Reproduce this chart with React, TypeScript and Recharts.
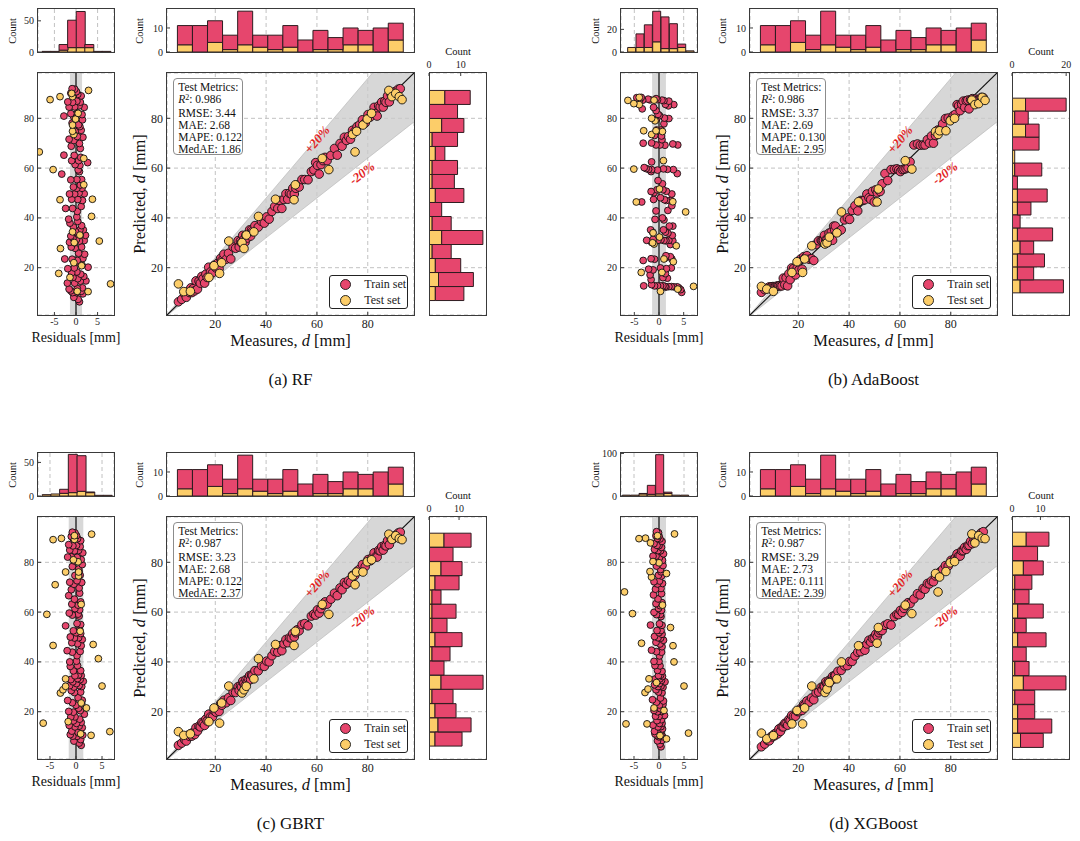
import React from 'react';
import {
  BarChart,
  Bar,
  ComposedChart,
  Scatter,
  Area,
  Line,
  XAxis,
  YAxis,
  CartesianGrid,
  ReferenceArea,
  ReferenceLine,
  ReferenceDot,
  Legend,
} from 'recharts';

// measured diameters, same train / test split in the four panels
const MEASURED_TRAIN = [
  5.5, 6.8, 7.9, 8.6, 9.3, 9.9, 10.4, 10.8,
  11.3, 11.9, 12.4, 13.0, 13.6, 14.1, 14.7, 15.2, 15.8, 16.3, 16.8,
  17.4, 18.1, 18.9, 19.6, 20.3, 20.9, 21.5, 22.1, 22.6,
  23.4, 24.3, 25.2, 26.1, 27.0, 28.0,
  29.0, 29.4, 29.9, 30.3, 30.8, 31.2, 31.7, 32.1, 32.6, 33.0, 33.5, 33.9, 34.3, 34.6,
  35.6, 36.9, 38.2, 39.3, 40.2,
  41.2, 42.3, 43.4, 44.6, 45.5, 46.2,
  47.0, 47.8, 48.5, 49.2, 49.9, 50.5, 51.1, 51.7, 52.2,
  53.0, 54.1, 55.2, 56.5, 57.8,
  58.8, 59.5, 60.2, 60.9, 61.6, 62.4, 63.2, 64.0,
  65.5, 66.9, 68.0, 69.1, 69.9,
  70.8, 71.6, 72.4, 73.2, 74.0, 74.9, 75.8,
  76.8, 77.9, 79.0, 80.1, 81.0, 81.8,
  82.5, 83.1, 83.7, 84.3, 84.9, 85.5, 86.1, 86.7, 87.2, 87.8,
  88.5, 89.2, 89.9, 90.6, 91.3, 92.0, 92.8,
];
const MEASURED_TEST = [
  5.5, 7.6, 10.2, 17.5, 19.5, 21.7, 22.5, 25.3, 30.5, 31.3, 32.2, 35.2, 37.0, 43.7, 51.0,
  51.5, 62.1, 64.7, 74.0, 75.0, 75.6, 78.1, 79.8, 81.5, 88.3, 89.5, 91.0, 92.4, 93.5,
];

// residuals (predicted - measured), same order as the measured lists
const RES_TRAIN_RF = [
  0.8, 0.5, 1.6, -0.5, 1.2, 0.1, 1.5, -0.8,
  0.3, -1.2, 2.3, -1.6, 1.0, -0.3, 1.8, 0.4, -2.0, 1.1, -0.7,
  2.8, 0.2, -1.0, 1.4, -0.4, 0.9, -1.9, 1.6, 0.3,
  2.0, -0.9, 0.6, -2.6, 1.3, -0.2,
  1.9, -1.1, 0.8, -0.3, 2.2, 0.1, -1.5, 1.0, -0.7, 0.5, 1.7, -1.2, 0.9, -0.1,
  1.3, -0.6, 0.4, -1.4, 0.2,
  -1.7, 0.3, 1.2, -0.8, 1.5, -2.4,
  0.4, 1.9, -1.0, 0.7, -0.3, 1.4, -1.5, 0.2, 1.0,
  -0.6, 1.3, 0.2, -1.2, 0.8,
  0.5, 2.7, 0.9, -3.3, -0.2, 0.6, 1.1, -1.0,
  -0.4, 1.0, -2.8, 0.8, -1.1,
  1.6, -0.5, 0.3, -1.6, 1.2, -0.2, 0.9,
  0.6, 1.5, -0.9, 1.4, -0.5, 0.3,
  1.9, -1.2, -2.8, 0.7, -0.3, 1.0, -1.6, 0.2, -0.8, 1.2,
  -1.9, 0.4, -0.6, 0.1, -1.2, -0.3, -0.9,
];
const RES_TEST_RF = [
  8.0, 2.8, 0.3, -1.4, 1.3, -4.0, -0.5, 5.4, -0.4, -3.6, 0.9, -0.8, 3.6, 3.8, -3.7,
  1.8, 1.8, -5.3, -0.5, -8.5, -0.8, -0.8, -0.1, 0.5, 2.9, -0.8, -1.0, -3.7, -6.0,
];

const RES_TRAIN_ADA = [
  4.6, 4.4, 4.0, 3.7, 3.0, 2.5, 2.0, 1.4,
  1.2, 0.8, 0.3, -0.3, -0.9, 1.7, -1.5, 0.8, -3.1, 1.3, -1.6,
  2.5, 1.5, -1.8, 0.3, -1.2, 2.6, -2.1, 2.3, 1.2,
  1.4, -0.9, -1.6, -3.2, 2.3, 2.8,
  2.0, 1.4, 1.0, 2.7, 0.4, -0.2, -1.5, 1.8, -1.2, 1.3, -2.5, 2.8, 0.9, 2.1,
  -1.3, -1.7, 1.0, 0.7, -0.8,
  1.8, 2.6, -0.6, 2.4, 1.5, 1.1,
  2.6, 0.3, -1.1, 1.5, -3.5, 0.8, -1.0, -0.4, -1.6,
  0.7, 3.7, -0.2, 2.9, 1.7,
  0.9, -0.3, -1.6, -1.5, -2.1, -2.6, -3.0, -1.5,
  3.8, 2.8, 1.2, 0.2, -0.6,
  0.6, -1.5, 0.5, -3.2, -0.9, 0.4, -0.5,
  1.0, 2.0, 1.1, -0.5, 0.1, -0.2,
  3.0, 1.9, -0.6, 1.3, 2.0, -1.1, 1.0, 0.6, -3.4, -0.3,
  -0.6, -1.8, -2.2, -3.3, -3.9, -3.6, -4.5,
];
const RES_TEST_ADA = [
  7.0, 3.8, 0.3, 0.6, 2.9, -3.6, 1.0, 3.5, -1.0, -1.3, 0.1, -1.2, 5.4, 2.8, -4.6,
  0.1, 0.9, -5.1, 0.7, -1.5, -0.6, -3.1, -0.8, -1.5, -1.0, -4.0, -5.1, -4.0, -6.3,
];

const RES_TRAIN_GBRT = [
  1.0, 0.6, 0.9, -0.4, 1.3, 0.2, 0.8, -0.6,
  0.4, -1.1, 1.2, -0.8, 0.6, -0.2, 1.0, 0.1, -1.3, 0.7, -0.5,
  1.6, -0.2, -1.0, 0.8, -0.5, 0.5, -1.4, 1.1, 0.0,
  1.2, -0.7, 0.4, -1.6, 0.9, -0.3,
  1.1, -0.9, 0.6, -0.4, 1.4, 0.1, -1.2, 0.8, -0.6, 0.3, 1.0, -1.0, 0.5, -0.2,
  0.9, -0.5, 0.3, -1.1, 0.1,
  -1.2, 0.2, 0.8, -0.7, 1.0, -1.7,
  0.3, 1.2, -0.8, 0.5, -0.3, 0.9, -1.1, 0.0, 0.7,
  -0.5, 0.9, 0.2, -2.0, 0.6,
  0.4, -0.7, 0.7, -1.3, -0.2, 0.4, 0.9, -0.8,
  -0.3, 0.7, -1.4, 0.6, -0.9,
  1.1, -0.4, 0.2, -1.2, 0.8, -0.2, 0.6,
  0.5, 1.2, -0.7, 1.0, -0.4, 0.2,
  1.3, -0.9, -1.6, 0.5, -0.3, 0.8, -1.2, 0.1, -0.6, 0.9,
  -1.4, 0.3, -0.5, 0.1, -0.9, -0.2, -0.7,
];
const RES_TEST_GBRT = [
  6.5, 2.9, 0.9, -1.5, 2.0, -6.3, 1.0, 5.0, -3.0, -2.5, -2.0, -2.0, 4.3, 3.3, -4.4,
  0.8, 1.0, -5.6, 0.5, -4.0, 0.5, -2.0, 0.4, -0.5, 3.0, -0.3, -0.3, -2.8, -4.4,
];

const RES_TRAIN_XGB = [
  0.4, 0.2, 0.6, -0.3, 0.7, 0.0, 0.5, -0.4,
  0.2, -0.8, 0.7, -0.9, 0.4, -0.2, 0.6, 0.1, -1.2, 0.5, -0.4,
  1.1, 0.0, -0.7, 0.5, -0.3, 0.3, -1.0, 0.8, 0.1,
  0.9, -0.5, 0.3, -1.3, 0.6, -0.1,
  0.8, -0.6, 0.4, -0.2, 1.2, 0.1, -0.9, 0.5, -0.4, 0.2, 0.7, -0.8, 0.3, -0.1,
  0.6, -0.3, 0.2, -0.8, 0.0,
  -1.0, 0.1, 0.5, -0.5, 0.6, -1.5,
  0.2, 0.9, -0.6, 0.3, -0.2, 0.6, -0.9, 0.0, 0.4,
  -0.4, 0.6, 0.1, -1.7, 0.4,
  0.3, -0.5, 0.5, -1.0, -0.1, 0.2, 0.6, -0.6,
  -0.2, 0.5, -1.1, 0.4, -0.7,
  0.7, -0.3, 0.1, -1.0, 0.5, -0.1, 0.4,
  0.3, 0.8, -0.5, 0.7, -0.3, 0.1,
  0.9, -0.6, -1.2, 0.3, -0.2, 0.5, -0.9, 0.0, -0.4, 0.6,
  -1.0, 0.2, -0.3, 0.0, -0.6, -0.1, -0.5,
];
const RES_TEST_XGB = [
  5.9, 1.5, 0.2, -2.4, 1.0, -6.6, -1.0, 5.0, -2.8, -2.2, -0.5, -2.0, 3.0, 2.8, -3.5,
  2.3, 0.7, -5.3, 1.5, -6.9, -1.5, -1.8, 0.0, -1.2, 3.1, -1.7, -0.3, -2.7, -4.0,
];

// histogram of measured values (same on every panel)
const MEASURED_BINS = [5.1, 94.0];
const MEASURED_HIST_TRAIN = [8, 11, 9, 6, 14, 5, 6, 9, 5, 8, 5, 7, 6, 10, 7];
const MEASURED_HIST_TEST = [3, 0, 4, 1, 3, 2, 1, 2, 0, 1, 1, 3, 3, 0, 5];

// residual histograms
const RES_BINS_RF = [-7.9, 8.0];
const RES_HIST_TRAIN_RF = [0, 0, 9, 44, 58, 5, 0, 0];
const RES_HIST_TEST_RF = [1, 1, 3, 7, 7, 7, 1, 1];
const RES_BINS_ADA = [-6.35, 7.17];
const RES_HIST_TRAIN_ADA = [0, 12, 20, 27, 28, 22, 3, 0];
const RES_HIST_TEST_ADA = [4, 4, 4, 9, 3, 3, 4, 1];
const RES_BINS_GBRT = [-6.5, 6.9];
const RES_HIST_TRAIN_GBRT = [0, 0, 6, 57, 53, 1, 0, 0];
const RES_HIST_TEST_GBRT = [2, 3, 4, 5, 7, 5, 1, 1];
const RES_BINS_XGB = [-7.33, 6.0];
const RES_HIST_TRAIN_XGB = [0, 0, 1, 21, 92, 3, 0, 0];
const RES_HIST_TEST_XGB = [2, 2, 5, 4, 5, 6, 2, 2];

// predicted-value histograms, bins from low to high
const PRED_BINS_RF = [6.8, 91.2];
const PRED_HIST_TRAIN_RF = [9, 11, 8, 6, 13, 6, 4, 9, 7, 8, 3, 8, 7, 9, 8];
const PRED_HIST_TEST_RF = [2, 3, 2, 1, 4, 1, 0, 2, 1, 1, 2, 1, 4, 0, 5];
const PRED_BINS_ADA = [9.9, 88.1];
const PRED_HIST_TRAIN_ADA = [16, 6, 10, 5, 13, 3, 5, 11, 2, 10, 0, 10, 5, 5, 15];
const PRED_HIST_TEST_ADA = [3, 2, 2, 3, 2, 0, 2, 2, 0, 1, 1, 0, 5, 1, 5];
const PRED_BINS_GBRT = [6.1, 91.7];
const PRED_HIST_TRAIN_GBRT = [9, 11, 7, 7, 14, 5, 6, 9, 5, 8, 3, 8, 7, 8, 9];
const PRED_HIST_TEST_GBRT = [2, 3, 2, 1, 4, 0, 1, 2, 1, 1, 1, 2, 4, 0, 5];
const PRED_BINS_XGB = [5.5, 92.1];
const PRED_HIST_TRAIN_XGB = [8, 12, 6, 7, 15, 5, 5, 10, 4, 9, 5, 6, 7, 9, 8];
const PRED_HIST_TEST_XGB = [3, 2, 2, 1, 4, 1, 0, 2, 1, 2, 1, 1, 4, 0, 5];

const METRIC_LABELS = ['RMSE', 'MAE', 'MAPE', 'MedAE'];
const METRICS_RF = ['0.986', '3.44', '2.68', '0.122', '1.86'];
const METRICS_ADA = ['0.986', '3.37', '2.69', '0.130', '2.95'];
const METRICS_GBRT = ['0.987', '3.23', '2.68', '0.122', '2.37'];
const METRICS_XGB = ['0.987', '3.29', '2.73', '0.111', '2.39'];

const LEGEND_ORDER = ['Train set', 'Test set'];
const AXIS_TICKS = [20, 40, 60, 80];
const BAND_X = [0, 100];

const PINK = '#e6466d';
const YELLOW = '#fccd69';
const EDGE = '#2e1c20';
const FRAME = '#3a3a3a';
const GRID = '#c2c2c2';
const SERIF = '"Liberation Serif", "Times New Roman", serif';
const DOMAIN: [number, number] = [1, 98.2];

const MODELS = [
  {
    caption: '(a) RF', ox: 0, oy: 0,
    resTrain: RES_TRAIN_RF, resTest: RES_TEST_RF, resDomain: [-8.8, 8.8],
    resBins: RES_BINS_RF, resHistTrain: RES_HIST_TRAIN_RF, resHistTest: RES_HIST_TEST_RF,
    resHistMax: 69, resHistTicks: [0, 50],
    predBins: PRED_BINS_RF, predHistTrain: PRED_HIST_TRAIN_RF, predHistTest: PRED_HIST_TEST_RF,
    predHistMax: 18.1, predHistTicks: [0, 10], metrics: METRICS_RF,
  },
  {
    caption: '(b) AdaBoost', ox: 583, oy: 0,
    resTrain: RES_TRAIN_ADA, resTest: RES_TEST_ADA, resDomain: [-7.7, 7.7],
    resBins: RES_BINS_ADA, resHistTrain: RES_HIST_TRAIN_ADA, resHistTest: RES_HIST_TEST_ADA,
    resHistMax: 38, resHistTicks: [0, 20],
    predBins: PRED_BINS_ADA, predHistTrain: PRED_HIST_TRAIN_ADA, predHistTest: PRED_HIST_TEST_ADA,
    predHistMax: 21.2, predHistTicks: [0, 20], metrics: METRICS_ADA,
  },
  {
    caption: '(c) GBRT', ox: 0, oy: 444,
    resTrain: RES_TRAIN_GBRT, resTest: RES_TEST_GBRT, resDomain: [-7.3, 7.3],
    resBins: RES_BINS_GBRT, resHistTrain: RES_HIST_TRAIN_GBRT, resHistTest: RES_HIST_TEST_GBRT,
    resHistMax: 64, resHistTicks: [0, 50],
    predBins: PRED_BINS_GBRT, predHistTrain: PRED_HIST_TRAIN_GBRT, predHistTest: PRED_HIST_TEST_GBRT,
    predHistMax: 19.1, predHistTicks: [0, 10], metrics: METRICS_GBRT,
  },
  {
    caption: '(d) XGBoost', ox: 583, oy: 444,
    resTrain: RES_TRAIN_XGB, resTest: RES_TEST_XGB, resDomain: [-7.6, 7.6],
    resBins: RES_BINS_XGB, resHistTrain: RES_HIST_TRAIN_XGB, resHistTest: RES_HIST_TEST_XGB,
    resHistMax: 101, resHistTicks: [0, 100],
    predBins: PRED_BINS_XGB, predHistTrain: PRED_HIST_TRAIN_XGB, predHistTest: PRED_HIST_TEST_XGB,
    predHistMax: 20.2, predHistTicks: [0, 10], metrics: METRICS_XGB,
  },
];

// bin centres -> rows for stacked histogram bars
function histRows(bins: number[], train: number[], test: number[]) {
  const w = (bins[1] - bins[0]) / train.length;
  return train.map((t, i) => ({ c: bins[0] + w * (i + 0.5), train: t, test: test[i] }));
}

const tick = (size: number) => ({ fontSize: size, fill: '#222', fontFamily: SERIF });

const makeDot = (fill: string, r: number) => (props: any) => (
  <circle cx={props.cx} cy={props.cy} r={r} fill={fill} stroke="#111" strokeWidth={0.9} />
);

const pctLabel = (text: string, angle: number) => (props: any) => {
  const vb = props.viewBox || {};
  const x = (vb.x || 0) + (vb.width || 0) / 2;
  const y = (vb.y || 0) + (vb.height || 0) / 2;
  return (
    <text
      x={x}
      y={y}
      transform={`rotate(${angle} ${x} ${y})`}
      textAnchor="middle"
      dominantBaseline="central"
      fill="#e3231f"
      fontFamily={SERIF}
      fontStyle="italic"
      fontWeight="bold"
      fontSize={13}
    >
      {text}
    </text>
  );
};

const LegendBox = (props: any) => {
  const items = (props.payload || [])
    .filter((e: any) => LEGEND_ORDER.includes(e.value))
    .sort((a: any, b: any) => LEGEND_ORDER.indexOf(a.value) - LEGEND_ORDER.indexOf(b.value));
  return (
    <div
      style={{
        width: 79,
        height: 34,
        boxSizing: 'border-box',
        border: '1px solid #222',
        borderRadius: 3,
        background: '#fff',
        padding: '1px 0 0 9px',
        fontFamily: SERIF,
        fontSize: 12,
        color: '#222',
      }}
    >
      {items.map((e: any) => (
        <div key={e.value} style={{ display: 'flex', alignItems: 'center', height: 15.5 }}>
          <svg width={13} height={13}>
            <circle cx={6.5} cy={6.5} r={5} fill={e.color} stroke="#111" strokeWidth={0.9} />
          </svg>
          <span style={{ marginLeft: 12 }}>{e.value}</span>
        </div>
      ))}
    </div>
  );
};

function Frame({ x, y, w, h }: { x: number; y: number; w: number; h: number }) {
  return (
    <div
      style={{
        position: 'absolute',
        left: x - 0.6,
        top: y - 0.6,
        width: w + 1.2,
        height: h + 1.2,
        border: `1.3px solid ${FRAME}`,
        boxSizing: 'border-box',
        pointerEvents: 'none',
      }}
    />
  );
}

function Txt({ x, y, size, rotate = 0, children }: any) {
  return (
    <div
      style={{
        position: 'absolute',
        left: x,
        top: y,
        transform: `translate(-50%, -50%) rotate(${rotate}deg)`,
        whiteSpace: 'nowrap',
        fontSize: size,
        color: '#111',
        lineHeight: 1,
      }}
    >
      {children}
    </div>
  );
}

function Panel({ md }: { md: any }) {
  const train = MEASURED_TRAIN.map((x, i) => ({ m: x, r: md.resTrain[i], p: x + md.resTrain[i] }));
  const test = MEASURED_TEST.map((x, i) => ({ m: x, r: md.resTest[i], p: x + md.resTest[i] }));
  const band = BAND_X.map((x) => ({ m: x, lo: x * 0.8, hi: x * 1.2, ideal: x }));
  const resRows = histRows(md.resBins, md.resHistTrain, md.resHistTest);
  const topRows = histRows(MEASURED_BINS, MEASURED_HIST_TRAIN, MEASURED_HIST_TEST);
  const predRows = histRows(md.predBins, md.predHistTrain, md.predHistTest);

  return (
    <div style={{ position: 'absolute', left: md.ox, top: md.oy, width: 497, height: 397 }}>
      {/* residual histogram */}
      <div style={{ position: 'absolute', left: 38 - 28, top: 9 - 6 }}>
        <BarChart width={28 + 76 + 2} height={6 + 43 + 6} data={resRows}
          margin={{ top: 6, right: 2, bottom: 6, left: 0 }} barCategoryGap={0} barGap={0}>
          <CartesianGrid horizontal={false} strokeDasharray="4 3" stroke={GRID} />
          <XAxis type="number" dataKey="c" domain={md.resDomain} ticks={[-5, 0, 5]} hide allowDataOverflow />
          <YAxis type="number" domain={[0, md.resHistMax]} ticks={md.resHistTicks} width={28}
            tickSize={-3} tickMargin={7} axisLine={false} tick={tick(10)} tickLine={{ stroke: FRAME }} allowDataOverflow />
          <Bar dataKey="test" stackId="s" fill={YELLOW} stroke={EDGE} strokeWidth={1} isAnimationActive={false} />
          <Bar dataKey="train" stackId="s" fill={PINK} stroke={EDGE} strokeWidth={1} isAnimationActive={false} />
        </BarChart>
      </div>
      <Frame x={38} y={9} w={76} h={43} />
      <Txt x={13} y={30.5} size={10.5} rotate={-90}>Count</Txt>

      {/* residual scatter */}
      <div style={{ position: 'absolute', left: 38 - 28, top: 73 - 6 }}>
        <ComposedChart width={28 + 76 + 6} height={6 + 242 + 20} margin={{ top: 6, right: 6, bottom: 0, left: 0 }}>
          <CartesianGrid vertical={false} strokeDasharray="4 3" stroke={GRID} />
          <XAxis type="number" dataKey="r" domain={md.resDomain} ticks={[-5, 0, 5]} height={20}
            tickSize={-3} tickMargin={6} axisLine={false} tick={tick(10)} tickLine={{ stroke: FRAME }} allowDataOverflow />
          <YAxis type="number" dataKey="p" domain={DOMAIN} ticks={AXIS_TICKS} width={28}
            tickSize={-3} tickMargin={7} axisLine={false} tick={tick(10)} tickLine={{ stroke: FRAME }} allowDataOverflow />
          <ReferenceArea x1={-1.4} x2={1.4} fill="#a8a8a8" fillOpacity={0.45} stroke="none" />
          <ReferenceLine x={0} stroke="#3d3d3d" strokeWidth={1.6} />
          <Scatter name="Train set" data={train} fill={PINK} shape={makeDot(PINK, 3.4)} isAnimationActive={false} />
          <Scatter name="Test set" data={test} fill={YELLOW} shape={makeDot(YELLOW, 3.4)} isAnimationActive={false} />
        </ComposedChart>
      </div>
      <Frame x={38} y={73} w={76} h={242} />
      <Txt x={76} y={338} size={14}>Residuals [mm]</Txt>

      {/* measured histogram */}
      <div style={{ position: 'absolute', left: 167 - 30, top: 9 - 6 }}>
        <BarChart width={30 + 247 + 2} height={6 + 43 + 6} data={topRows}
          margin={{ top: 6, right: 2, bottom: 6, left: 0 }} barCategoryGap={0} barGap={0}>
          <CartesianGrid horizontal={false} strokeDasharray="4 3" stroke={GRID} />
          <XAxis type="number" dataKey="c" domain={DOMAIN} ticks={AXIS_TICKS} hide allowDataOverflow />
          <YAxis type="number" domain={[0, 17.9]} ticks={[0, 10]} width={30}
            tickSize={-3} tickMargin={7} axisLine={false} tick={tick(10)} tickLine={{ stroke: FRAME }} allowDataOverflow />
          <Bar dataKey="test" stackId="s" fill={YELLOW} stroke={EDGE} strokeWidth={1} isAnimationActive={false} />
          <Bar dataKey="train" stackId="s" fill={PINK} stroke={EDGE} strokeWidth={1} isAnimationActive={false} />
        </BarChart>
      </div>
      <Frame x={167} y={9} w={247} h={43} />
      <Txt x={140} y={30.5} size={10.5} rotate={-90}>Count</Txt>

      {/* main parity plot */}
      <div style={{ position: 'absolute', left: 167 - 34, top: 73 - 6 }}>
        <ComposedChart width={34 + 247 + 6} height={6 + 242 + 24} data={band}
          margin={{ top: 6, right: 6, bottom: 0, left: 0 }}>
          <CartesianGrid strokeDasharray="4 3" stroke={GRID} />
          <XAxis type="number" dataKey="m" domain={DOMAIN} ticks={AXIS_TICKS} height={24}
            tickSize={-3} tickMargin={7} axisLine={false} tick={tick(12)} tickLine={{ stroke: FRAME }} allowDataOverflow />
          <YAxis type="number" dataKey="p" domain={DOMAIN} ticks={AXIS_TICKS} width={34}
            tickSize={-3} tickMargin={7} axisLine={false} tick={tick(12)} tickLine={{ stroke: FRAME }} allowDataOverflow />
          <Area type="linear" dataKey={(d: any) => [d.lo, d.hi]} fill="#c9c9c9" fillOpacity={0.75}
            stroke="#b4b4b4" strokeWidth={0.6} legendType="none" isAnimationActive={false} />
          <Line type="linear" dataKey="ideal" stroke="#111" strokeWidth={1.2} dot={false}
            legendType="none" isAnimationActive={false} />
          <Scatter name="Train set" data={train} fill={PINK} shape={makeDot(PINK, 4.3)} isAnimationActive={false} />
          <Scatter name="Test set" data={test} fill={YELLOW} shape={makeDot(YELLOW, 4.3)} isAnimationActive={false} />
          <ReferenceDot x={60} y={71.5} r={0} fill="none" stroke="none" label={{ content: pctLabel('+20%', -50) }} />
          <ReferenceDot x={77.7} y={58} r={0} fill="none" stroke="none" label={{ content: pctLabel('-20%', -38) }} />
          <Legend layout="vertical" align="center" verticalAlign="middle" content={LegendBox}
            wrapperStyle={{ left: 329.3 - 133, top: 275 - 67, right: 'auto', bottom: 'auto', width: 79, height: 34 }} />
        </ComposedChart>
      </div>
      <Frame x={167} y={73} w={247} h={242} />
      <div
        style={{
          position: 'absolute', left: 172.7, top: 77.7, width: 70.6, height: 77.3, boxSizing: 'border-box',
          border: '1px solid #8c8c8c', borderRadius: 4, background: 'rgba(255,255,255,0.92)',
          padding: '2.5px 0 0 4.5px', fontSize: 11.5, lineHeight: '12px', color: '#111', whiteSpace: 'nowrap',
        }}
      >
        <div>Test Metrics:</div>
        <div>
          <i>R</i>
          <span style={{ fontSize: 8, position: 'relative', top: -3.5 }}>2</span>: {md.metrics[0]}
        </div>
        {METRIC_LABELS.map((name, i) => (
          <div key={name}>{name}: {md.metrics[i + 1]}</div>
        ))}
      </div>
      <Txt x={140} y={194} size={16.5} rotate={-90}>
        Predicted, <i>d</i> [mm]
      </Txt>
      <Txt x={290.5} y={341} size={16.5}>
        Measures, <i>d</i> [mm]
      </Txt>

      {/* predicted histogram */}
      <div style={{ position: 'absolute', left: 429.3 - 6, top: 73 - 16 }}>
        <BarChart layout="vertical" width={6 + 57.4 + 8} height={16 + 242 + 4} data={predRows}
          margin={{ top: 0, right: 8, bottom: 4, left: 6 }} barCategoryGap={0} barGap={0}>
          <CartesianGrid vertical={false} strokeDasharray="4 3" stroke={GRID} />
          <XAxis type="number" orientation="top" domain={[0, md.predHistMax]} ticks={md.predHistTicks} height={16}
            tickSize={-3} tickMargin={8} axisLine={false} tick={tick(10)} tickLine={{ stroke: FRAME }}
            interval={0} allowDataOverflow />
          <YAxis type="number" dataKey="c" domain={DOMAIN} ticks={AXIS_TICKS} reversed hide allowDataOverflow />
          <Bar dataKey="test" stackId="s" fill={YELLOW} stroke={EDGE} strokeWidth={1} isAnimationActive={false} />
          <Bar dataKey="train" stackId="s" fill={PINK} stroke={EDGE} strokeWidth={1} isAnimationActive={false} />
        </BarChart>
      </div>
      <Frame x={429.3} y={73} w={57.4} h={242} />
      <Txt x={458} y={51.5} size={10.5}>Count</Txt>

      <Txt x={290.5} y={379} size={17}>{md.caption}</Txt>
    </div>
  );
}

export default function App() {
  return (
    <div
      style={{
        position: 'absolute',
        left: 0,
        top: 0,
        width: 1080,
        height: 841,
        background: '#fff',
        fontFamily: SERIF,
        overflow: 'hidden',
      }}
    >
      {MODELS.map((md) => (
        <Panel key={md.caption} md={md} />
      ))}
    </div>
  );
}
